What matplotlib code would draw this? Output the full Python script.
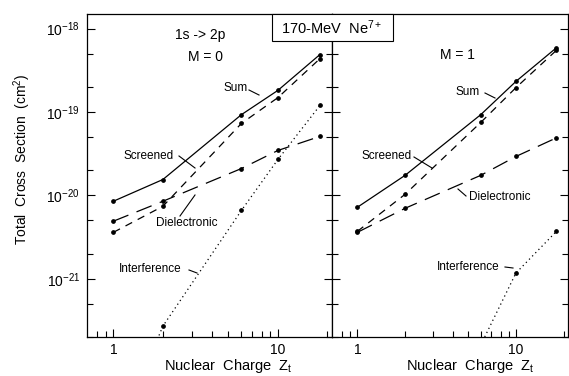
import numpy as np
import matplotlib
matplotlib.use("Agg")
import matplotlib.pyplot as plt
from matplotlib.lines import Line2D
from matplotlib.patches import Rectangle
from matplotlib.ticker import FixedLocator, NullFormatter

plt.rcParams['font.family'] = ['Liberation Sans', 'DejaVu Sans']
plt.rcParams['mathtext.fontset'] = 'custom'
plt.rcParams['mathtext.rm'] = 'Liberation Sans'
plt.rcParams['mathtext.it'] = 'Liberation Sans:italic'

# --- data (Z_t of target, cross section in cm^2) ---
z_t = [1, 2, 6, 10, 18]

m0_sum = [8.5e-21, 1.55e-20, 9.3e-20, 1.82e-19, 4.9e-19]
m0_screened = [3.6e-21, 7.4e-21, 7.3e-20, 1.49e-19, 4.37e-19]
m0_dielec = [4.9e-21, 8.5e-21, 2.1e-20, 3.46e-20, 5.1e-20]
m0_interf = [1e-23, 2.7e-22, 6.6e-21, 2.7e-20, 1.2e-19]

m1_sum = [7.2e-21, 1.74e-20, 9.3e-20, 2.33e-19, 5.9e-19]
m1_screened = [3.7e-21, 1.03e-20, 7.5e-20, 1.96e-19, 5.5e-19]
m1_dielec = [3.6e-21, 7.0e-21, 1.74e-20, 2.93e-20, 4.9e-20]
z_interf_m1 = [6, 10, 18]
m1_interf = [1.6e-22, 1.17e-21, 3.7e-21]

y_major = [1e-21, 1e-20, 1e-19, 1e-18]
y_minor = [2e-22, 5e-22, 2e-21, 5e-21, 2e-20, 5e-20, 2e-19, 5e-19]
x_minor = [0.8, 0.9, 2, 3, 4, 5, 6, 7, 8, 9, 20]

W, H = 569, 376
fig = plt.figure(figsize=(W / 100, H / 100), dpi=100)


def fx(x):
    return x / W


def fy(y):
    return 1 - y / H


ax0 = fig.add_axes([fx(87), fy(337), fx(332 - 87), (337 - 14) / H])
ax1 = fig.add_axes([fx(332), fy(337), fx(568 - 332), (337 - 14) / H])

styles = {
    'sum': dict(ls='-'),
    'screened': dict(ls=(0, (6, 5))),
    'dielec': dict(ls=(0, (13, 7))),
    'interf': dict(ls=(0, (1, 2.6))),
}
common = dict(color='black', lw=0.9, marker='o', ms=2.4, mfc='black', mec='black')

ax0.plot(z_t, m0_sum, **styles['sum'], **common)
ax0.plot(z_t, m0_screened, **styles['screened'], **common)
ax0.plot(z_t, m0_dielec, **styles['dielec'], **common)
ax0.plot(z_t, m0_interf, **styles['interf'], **common)

ax1.plot(z_t, m1_sum, **styles['sum'], **common)
ax1.plot(z_t, m1_screened, **styles['screened'], **common)
ax1.plot(z_t, m1_dielec, **styles['dielec'], **common)
ax1.plot(z_interf_m1, m1_interf, **styles['interf'], **common)

for ax in (ax0, ax1):
    ax.set_xscale('log')
    ax.set_yscale('log')
    ax.set_xlim(0.692, 21.3)
    ax.set_ylim(2.0e-22, 1.5e-18)
    ax.yaxis.set_major_locator(FixedLocator(y_major))
    ax.yaxis.set_minor_locator(FixedLocator(y_minor))
    ax.yaxis.set_minor_formatter(NullFormatter())
    ax.xaxis.set_major_locator(FixedLocator([1, 10]))
    ax.xaxis.set_minor_locator(FixedLocator(x_minor))
    ax.xaxis.set_minor_formatter(NullFormatter())
    ax.set_xticklabels(['1', '10'])
    ax.tick_params(which='both', direction='in', left=True, right=True,
                   top=False, width=0.8, labelsize=10)
    ax.tick_params(which='major', length=6)
    ax.tick_params(which='minor', length=4)
    ax.tick_params(axis='y', pad=5)
    ax.tick_params(axis='x', pad=4)
    for sp in ax.spines.values():
        sp.set_linewidth(0.9)

ax1.tick_params(labelleft=False)

# title box
fig.add_artist(Rectangle((fx(272), fy(41)), fx(393 - 272), (41 - 14) / H,
                         transform=fig.transFigure, facecolor='white',
                         edgecolor='black', lw=0.8, zorder=5))
fig.text(fx(332), fy(28), '170-MeV  Ne$^{7+}$', ha='center', va='center',
         fontsize=10.5, zorder=6)

fig.text(fx(200), fy(35), '1s -> 2p', ha='center', va='center', fontsize=10)
fig.text(fx(205), fy(57), 'M = 0', ha='center', va='center', fontsize=10)
fig.text(fx(457), fy(55), 'M = 1', ha='center', va='center', fontsize=10)

# curve labels with leader lines (pixel positions)
labels = [
    ('Sum', 223, 88, (249, 90), (259, 95)),
    ('Screened', 123, 156, (179, 156), (195, 168)),
    ('Dielectronic', 156, 223, (180, 216), (195, 195)),
    ('Interference', 119, 269, (189, 270), (197, 273)),
    ('Sum', 455, 92, (485, 93), (495, 98)),
    ('Screened', 362, 156, (414, 157), (432, 168)),
    ('Dielectronic', 469, 197, (458, 189), (466, 196)),
    ('Interference', 437, 267, (505, 267), (513, 268)),
]
for txt, tx, ty, p1, p2 in labels:
    fig.text(fx(tx), fy(ty), txt, ha='left', va='center', fontsize=8.5)
    fig.add_artist(Line2D([fx(p1[0]), fx(p2[0])], [fy(p1[1]), fy(p2[1])],
                          color='black', lw=0.8, transform=fig.transFigure))

fig.text(fx(22), fy(159), 'Total  Cross  Section  (cm$^2$)', rotation=90,
         ha='center', va='center', fontsize=10)
fig.text(fx(228), fy(366), 'Nuclear  Charge  Z$_\\mathrm{t}$', ha='center',
         va='center', fontsize=10.5)
fig.text(fx(470), fy(366), 'Nuclear  Charge  Z$_\\mathrm{t}$', ha='center',
         va='center', fontsize=10.5)

fig.savefig('out.png', dpi=100)
